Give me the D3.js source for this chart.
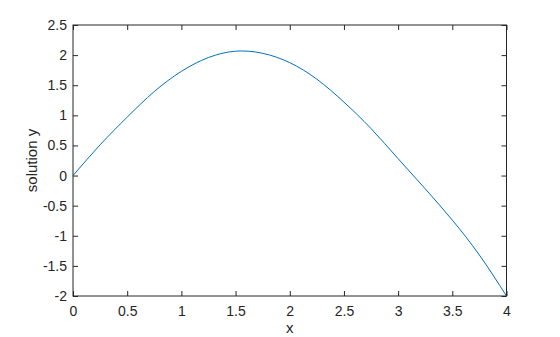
<!DOCTYPE html>
<html>
<head>
<meta charset="utf-8">
<script src="https://cdn.jsdelivr.net/npm/d3@7"></script>
<style>
  html, body { margin: 0; padding: 0; background: #fff; }
  svg text { font-family: "Liberation Sans", Arial, sans-serif; }
</style>
</head>
<body>
<svg id="chart" width="560" height="337"></svg>
<script>
const xValues = [0, 0.25, 0.5, 0.75, 1, 1.25, 1.5, 1.75, 2, 2.25, 2.5, 2.75, 3, 3.25, 3.5, 3.75, 4];
const yValues = [0, 0.51, 0.97, 1.395, 1.73, 1.96, 2.065, 2.03, 1.875, 1.60, 1.22, 0.78, 0.28, -0.22, -0.74, -1.32, -2.0];
const xTicks = [0, 0.5, 1, 1.5, 2, 2.5, 3, 3.5, 4];
const yTicks = [-2, -1.5, -1, -0.5, 0, 0.5, 1, 1.5, 2, 2.5];
const xLabel = "x";
const yLabel = "solution y";

const margin = {left: 73, right: 53.5, top: 25, bottom: 41};
const W = 560, H = 337;
const svg = d3.select("#chart");
const x = d3.scaleLinear().domain([0, 4]).range([margin.left, W - margin.right]);
const y = d3.scaleLinear().domain([-2, 2.5]).range([H - margin.bottom, margin.top]);
const ink = "#262626";
const tickLen = 5;
const fmt = d => String(d);

const data = xValues.map((v, i) => ({x: v, y: yValues[i]}));

// curve
svg.append("path")
  .datum(data)
  .attr("fill", "none")
  .attr("stroke", "#0072BD")
  .attr("stroke-width", 1)
  .attr("d", d3.line().x(d => x(d.x)).y(d => y(d.y)).curve(d3.curveNatural));

function styleAxis(g, hideText) {
  g.select(".domain").remove();
  g.selectAll(".tick line").attr("stroke", ink).attr("stroke-width", 1);
  g.selectAll(".tick text").attr("fill", ink).attr("font-size", 14);
  if (hideText) g.selectAll(".tick text").remove();
}

// bottom axis (ticks inward)
svg.append("g").attr("transform", `translate(0,${y(-2)})`)
  .call(d3.axisBottom(x).tickValues(xTicks).tickSizeInner(-tickLen).tickSizeOuter(0).tickPadding(10).tickFormat(fmt))
  .call(g => styleAxis(g, false));
// top axis
svg.append("g").attr("transform", `translate(0,${y(2.5)})`)
  .call(d3.axisTop(x).tickValues(xTicks).tickSizeInner(-tickLen).tickSizeOuter(0))
  .call(g => styleAxis(g, true));
// left axis
svg.append("g").attr("transform", `translate(${x(0)},0)`)
  .call(d3.axisLeft(y).tickValues(yTicks).tickSizeInner(-tickLen).tickSizeOuter(0).tickPadding(6).tickFormat(fmt))
  .call(g => styleAxis(g, false));
// right axis
svg.append("g").attr("transform", `translate(${x(4)},0)`)
  .call(d3.axisRight(y).tickValues(yTicks).tickSizeInner(-tickLen).tickSizeOuter(0))
  .call(g => styleAxis(g, true));

// frame
svg.append("rect")
  .attr("x", x(0)).attr("y", y(2.5))
  .attr("width", x(4) - x(0)).attr("height", y(-2) - y(2.5))
  .attr("fill", "none").attr("stroke", ink).attr("stroke-width", 1);

// labels
svg.append("text")
  .attr("x", (x(0) + x(4)) / 2).attr("y", 333)
  .attr("text-anchor", "middle").attr("font-size", 15).attr("fill", ink)
  .text(xLabel);
svg.append("text")
  .attr("transform", `translate(37,${(y(2.5) + y(-2)) / 2}) rotate(-90)`)
  .attr("text-anchor", "middle").attr("font-size", 15).attr("fill", ink)
  .text(yLabel);
</script>
</body>
</html>
